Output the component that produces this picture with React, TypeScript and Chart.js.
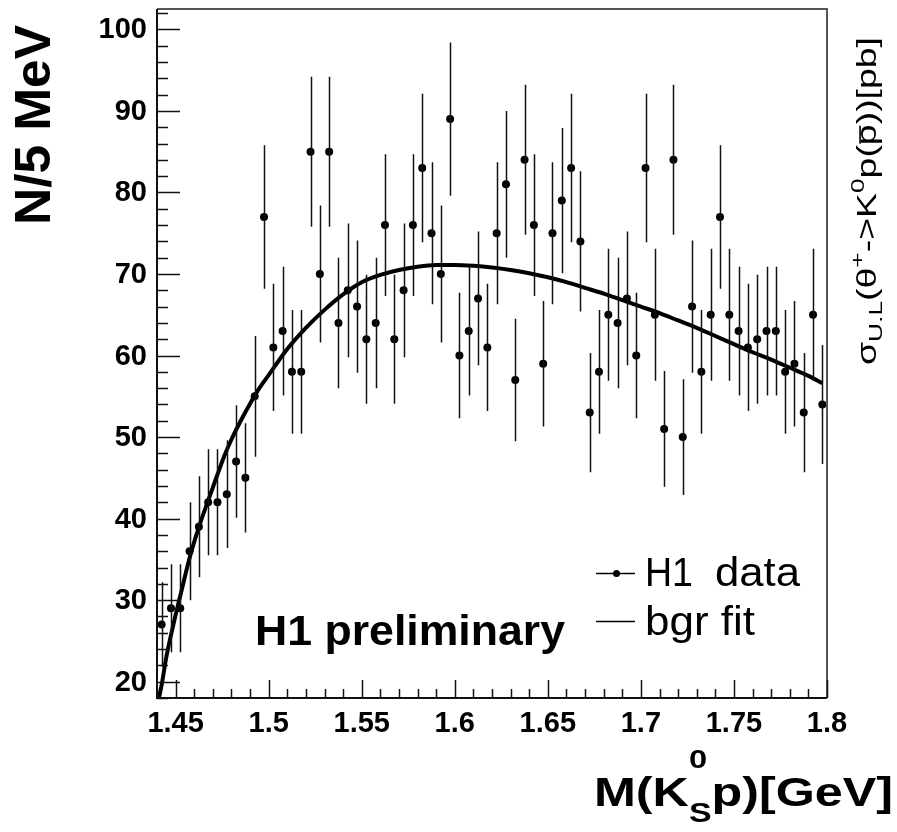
import React, { useEffect, useRef } from "react";
import { Chart, registerables } from "chart.js";

Chart.register(...registerables);

// ---------- data ----------
const massBins = [
  1.4425, 1.4475, 1.4525, 1.4575, 1.4625, 1.4675, 1.4725, 1.4775, 1.4825, 1.4875,
  1.4925, 1.4975, 1.5025, 1.5075, 1.5125, 1.5175, 1.5225, 1.5275, 1.5325, 1.5375,
  1.5425, 1.5475, 1.5525, 1.5575, 1.5625, 1.5675, 1.5725, 1.5775, 1.5825, 1.5875,
  1.5925, 1.5975, 1.6025, 1.6075, 1.6125, 1.6175, 1.6225, 1.6275, 1.6325, 1.6375,
  1.6425, 1.6475, 1.6525, 1.6575, 1.6625, 1.6675, 1.6725, 1.6775, 1.6825, 1.6875,
  1.6925, 1.6975, 1.7025, 1.7075, 1.7125, 1.7175, 1.7225, 1.7275, 1.7325, 1.7375,
  1.7425, 1.7475, 1.7525, 1.7575, 1.7625, 1.7675, 1.7725, 1.7775, 1.7825, 1.7875,
  1.7925, 1.7975,
];

const counts = [
  27, 29, 29, 36, 39, 42, 42, 43, 47, 45,
  55, 77, 61, 63, 58, 58, 85, 70, 85, 64,
  68, 66, 62, 64, 76, 62, 68, 76, 83, 75,
  70, 89, 60, 63, 67, 61, 75, 81, 57, 84,
  76, 59, 75, 79, 83, 74, 53, 58, 65, 64,
  67, 60, 83, 65, 51, 84, 50, 66, 58, 65,
  77, 65, 63, 61, 62, 63, 63, 58, 59, 53,
  65, 54,
];

const errors = [
  5.2, 5.4, 5.4, 6.0, 6.2, 6.5, 6.5, 6.6, 6.9, 6.7,
  7.4, 8.8, 7.8, 7.9, 7.6, 7.6, 9.2, 8.4, 9.2, 8.0,
  8.2, 8.1, 7.9, 8.0, 8.7, 7.9, 8.2, 8.7, 9.1, 8.7,
  8.4, 9.4, 7.7, 7.9, 8.2, 7.8, 8.7, 9.0, 7.5, 9.2,
  8.7, 7.7, 8.7, 8.9, 9.1, 8.6, 7.3, 7.6, 8.1, 8.0,
  8.2, 7.7, 9.1, 8.1, 7.1, 9.2, 7.1, 8.1, 7.6, 8.1,
  8.8, 8.1, 7.9, 7.8, 7.9, 7.9, 7.9, 7.6, 7.7, 7.3,
  8.1, 7.3,
];

const fitMass = [
  1.4405, 1.4425, 1.445, 1.449, 1.453, 1.458, 1.463, 1.467, 1.472, 1.476,
  1.48, 1.485, 1.49, 1.495, 1.5, 1.51, 1.52, 1.53, 1.54, 1.55,
  1.56, 1.57, 1.58, 1.59, 1.6, 1.61, 1.62, 1.63, 1.64, 1.65,
  1.66, 1.67, 1.68, 1.69, 1.7, 1.71, 1.72, 1.73, 1.74, 1.75,
  1.76, 1.77, 1.78, 1.79, 1.7975,
];
const fitValues = [
  17.4, 19.6, 23.0, 27.2, 31.0, 35.6, 39.3, 41.9, 45.1, 47.6,
  49.7, 52.0, 54.1, 56.0, 57.6, 60.8, 63.4, 65.6, 67.5, 69.0,
  69.9, 70.5, 70.9, 71.1, 71.1, 71.0, 70.8, 70.5, 70.1, 69.6,
  69.0, 68.3, 67.6, 66.8, 66.0, 65.2, 64.3, 63.4, 62.4, 61.4,
  60.4, 59.5, 58.5, 57.5, 56.6,
];

const xMajorTicks = [1.45, 1.5, 1.55, 1.6, 1.65, 1.7, 1.75, 1.8];
const xTickLabels = ["1.45", "1.5", "1.55", "1.6", "1.65", "1.7", "1.75", "1.8"];
const yMajorTicks = [20, 30, 40, 50, 60, 70, 80, 90, 100];
const yTickLabels = ["20", "30", "40", "50", "60", "70", "80", "90", "100"];

const FAMILY = '"Liberation Sans", Arial, Helvetica, sans-serif';

type Piece = {
  text: string;
  size: number;
  bold?: boolean;
  dy?: number;
  stack?: { text: string; size: number; bold?: boolean; dy: number };
  overline?: boolean;
};

function font(size: number, bold?: boolean) {
  return `${bold ? "bold " : ""}${size}px ${FAMILY}`;
}

function drawRich(
  ctx: CanvasRenderingContext2D,
  pieces: Piece[],
  x: number,
  y: number,
  targetWidth?: number
) {
  const widths: number[] = [];
  let total = 0;
  for (const p of pieces) {
    ctx.font = font(p.size, p.bold);
    let w = ctx.measureText(p.text).width;
    if (p.stack) {
      ctx.font = font(p.stack.size, p.stack.bold);
      w = Math.max(w, ctx.measureText(p.stack.text).width);
    }
    widths.push(w);
    total += w;
  }
  const sx = targetWidth ? targetWidth / total : 1;
  ctx.save();
  ctx.translate(x, y);
  ctx.scale(sx, 1);
  ctx.textAlign = "left";
  ctx.textBaseline = "alphabetic";
  let cx = 0;
  pieces.forEach((p, i) => {
    ctx.font = font(p.size, p.bold);
    ctx.fillText(p.text, cx, p.dy || 0);
    if (p.overline) {
      const w = ctx.measureText(p.text).width;
      ctx.fillRect(cx + 1, (p.dy || 0) - p.size * 0.62, w - 2, Math.max(1.5, p.size * 0.06));
    }
    if (p.stack) {
      ctx.font = font(p.stack.size, p.stack.bold);
      ctx.fillText(p.stack.text, cx, p.stack.dy);
    }
    cx += widths[i];
  });
  ctx.restore();
}

const decorPlugin = {
  id: "decor",
  afterDatasetsDraw(chart: any) {
    const ctx: CanvasRenderingContext2D = chart.ctx;
    const xs = chart.scales.x;
    const ys = chart.scales.y;
    ctx.save();
    ctx.strokeStyle = "#111";
    ctx.lineWidth = 1.5;
    ctx.beginPath();
    massBins.forEach((m, i) => {
      const px = Math.round(xs.getPixelForValue(m)) + 0.5;
      const lo = Math.max(ys.getPixelForValue(counts[i] - errors[i]), chart.chartArea.top);
      const hi = Math.max(ys.getPixelForValue(counts[i] + errors[i]), chart.chartArea.top);
      ctx.moveTo(px, Math.min(lo, chart.chartArea.bottom));
      ctx.lineTo(px, hi);
    });
    ctx.stroke();
    ctx.restore();
  },
  afterDraw(chart: any) {
    const ctx: CanvasRenderingContext2D = chart.ctx;
    const xs = chart.scales.x;
    const ys = chart.scales.y;
    const { left, right, top, bottom } = chart.chartArea;
    ctx.save();

    // frame
    ctx.lineWidth = 2;
    ctx.strokeStyle = "#555";
    ctx.beginPath();
    ctx.moveTo(left, top);
    ctx.lineTo(right, top);
    ctx.lineTo(right, bottom);
    ctx.stroke();
    ctx.strokeStyle = "#111";
    ctx.beginPath();
    ctx.moveTo(left, top);
    ctx.lineTo(left, bottom);
    ctx.lineTo(right, bottom);
    ctx.stroke();

    // ticks
    ctx.lineWidth = 1.5;
    ctx.strokeStyle = "#111";
    ctx.beginPath();
    for (let v = 18; v <= 102.01; v += 2) {
      const py = Math.round(ys.getPixelForValue(v)) + 0.5;
      const major = Math.abs(v % 10) < 0.01;
      ctx.moveTo(left, py);
      ctx.lineTo(left + (major ? 23 : 11), py);
    }
    for (let k = 144; k <= 180; k += 1) {
      const v = k / 100;
      const px = Math.round(xs.getPixelForValue(v)) + 0.5;
      const major = k % 5 === 0;
      ctx.moveTo(px, bottom);
      ctx.lineTo(px, bottom - (major ? 18 : 9));
    }
    ctx.stroke();

    // tick labels
    ctx.fillStyle = "#000";
    ctx.font = font(29, true);
    ctx.textAlign = "right";
    ctx.textBaseline = "alphabetic";
    yMajorTicks.forEach((v, i) => {
      ctx.fillText(yTickLabels[i], left - 10, ys.getPixelForValue(v) + 9);
    });
    ctx.textAlign = "center";
    xMajorTicks.forEach((v, i) => {
      ctx.fillText(xTickLabels[i], xs.getPixelForValue(v), 732);
    });

    // y title
    ctx.save();
    ctx.translate(50, 225);
    ctx.rotate(-Math.PI / 2);
    drawRich(ctx, [{ text: "N/5 MeV", size: 50, bold: true }], 0, 0, 200);
    ctx.restore();

    // x title
    drawRich(
      ctx,
      [
        { text: "M(K", size: 40, bold: true },
        { text: "0", size: 26, bold: true, dy: -38, stack: { text: "S", size: 27, bold: true, dy: 16 } },
        { text: "p)[GeV]", size: 40, bold: true },
      ],
      594,
      806,
      299
    );

    // right rotated label
    ctx.save();
    ctx.translate(876, 365);
    ctx.rotate(-Math.PI / 2);
    drawRich(
      ctx,
      [
        { text: "σ", size: 27 },
        { text: "U.L", size: 19, dy: 6 },
        { text: "(θ", size: 27 },
        { text: "+", size: 19, dy: -12 },
        { text: "->K", size: 27 },
        { text: "0", size: 19, dy: -12 },
        { text: "p(", size: 27 },
        { text: "p", size: 27, overline: true },
        { text: "))[pb]", size: 27 },
      ],
      0,
      0,
      328
    );
    ctx.restore();

    // H1 preliminary
    drawRich(ctx, [{ text: "H1 preliminary", size: 42, bold: true }], 255, 645, 310);

    // legend
    ctx.strokeStyle = "#000";
    ctx.lineWidth = 1.5;
    ctx.beginPath();
    ctx.moveTo(596, 573.5);
    ctx.lineTo(635, 573.5);
    ctx.moveTo(596, 621.5);
    ctx.lineTo(635, 621.5);
    ctx.stroke();
    ctx.beginPath();
    ctx.arc(616.5, 573.5, 3.5, 0, Math.PI * 2);
    ctx.fill();
    drawRich(ctx, [{ text: "H1", size: 41 }], 645, 586, 48);
    drawRich(ctx, [{ text: "data", size: 41 }], 715, 586, 85);
    drawRich(ctx, [{ text: "bgr fit", size: 41 }], 645, 635, 110);

    ctx.restore();
  },
};

export default function App() {
  const ref = useRef<HTMLCanvasElement>(null);
  useEffect(() => {
    const canvas = ref.current!;
    const chart = new Chart(canvas, {
      type: "scatter",
      data: {
        datasets: [
          {
            type: "line",
            label: "bgr fit",
            data: fitMass.map((m, i) => ({ x: m, y: fitValues[i] })),
            borderColor: "#000",
            borderWidth: 4,
            pointRadius: 0,
            cubicInterpolationMode: "monotone",
            fill: false,
            clip: 0,
            order: 2,
          } as any,
          {
            type: "scatter",
            label: "H1 data",
            data: massBins.map((m, i) => ({ x: m, y: counts[i] })),
            pointRadius: 4,
            pointStyle: "circle",
            backgroundColor: "#000",
            borderColor: "#000",
            borderWidth: 0,
            order: 1,
          } as any,
        ],
      },
      options: {
        responsive: false,
        maintainAspectRatio: false,
        animation: false,
        layout: { padding: { left: 157, right: 70, top: 9, bottom: 134 } },
        scales: {
          x: { type: "linear", min: 1.44, max: 1.8, display: false },
          y: { type: "linear", min: 18, max: 102.5, display: false },
        },
        plugins: {
          legend: { display: false },
          tooltip: { enabled: false },
        },
      },
      plugins: [decorPlugin],
    });
    return () => chart.destroy();
  }, []);
  return (
    <div style={{ position: "absolute", left: 0, top: 0, width: 897, height: 832, background: "#fff" }}>
      <canvas ref={ref} width={897} height={832} style={{ display: "block", width: 897, height: 832 }} />
    </div>
  );
}
